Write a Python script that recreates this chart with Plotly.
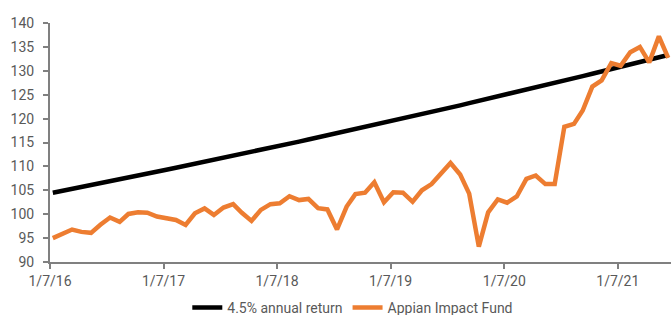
import plotly.graph_objects as go
import pandas as pd

# Monthly observation dates (66 months, on the 10th of each month)
dates = pd.date_range("2016-07-01", periods=66, freq="MS") + pd.Timedelta(days=9)
dates = [d.strftime("%Y-%m-%d") for d in dates]

benchmark = [
    104.50, 104.89, 105.29, 105.68, 106.08, 106.48, 106.88, 107.28, 107.68, 108.09, 108.49, 108.90,
    109.31, 109.72, 110.13, 110.54, 110.96, 111.38, 111.79, 112.21, 112.63, 113.06, 113.48, 113.91,
    114.33, 114.76, 115.19, 115.62, 116.06, 116.49, 116.93, 117.37, 117.81, 118.25, 118.70, 119.14,
    119.59, 120.04, 120.49, 120.94, 121.39, 121.85, 122.31, 122.77, 123.23, 123.69, 124.15, 124.62,
    125.09, 125.56, 126.03, 126.50, 126.98, 127.45, 127.93, 128.41, 128.89, 129.37, 129.86, 130.35,
    130.84, 131.33, 131.82, 132.31, 132.81, 133.31,
]

fund = [
    95.0, 95.8, 96.8, 96.3, 96.1, 97.8, 99.3, 98.4, 100.05, 100.4, 100.3, 99.5,
    99.1, 98.8, 97.75, 100.2, 101.2, 99.85, 101.4, 102.1, 100.3, 98.6, 100.9, 102.1,
    102.3, 103.75, 102.95, 103.2, 101.25, 101.0, 96.8, 101.6, 104.2, 104.5, 106.7, 102.5,
    104.6, 104.5, 102.6, 105.0, 106.3, 108.5, 110.7, 108.3, 104.3, 93.2, 100.4, 103.1,
    102.4, 103.7, 107.4, 108.1, 106.3, 106.3, 118.3, 118.9, 121.7, 126.7, 128.0, 131.6,
    131.05, 133.9, 135.0, 131.75, 137.2, 132.7,
]

tick_dates = ["2016-07-01", "2017-07-01", "2018-07-01", "2019-07-01", "2020-07-01", "2021-07-01"]
tick_labels = ["1/7/16", "1/7/17", "1/7/18", "1/7/19", "1/7/20", "1/7/21"]
y_ticks = [90, 95, 100, 105, 110, 115, 120, 125, 130, 135, 140]

font_color = "#595959"
axis_color = "#808080"

fig = go.Figure()
fig.add_trace(go.Scatter(
    x=dates, y=benchmark, mode="lines", name="4.5% annual return",
    line=dict(color="#000000", width=4.5),
))
fig.add_trace(go.Scatter(
    x=dates, y=fund, mode="lines", name="Appian Impact Fund",
    line=dict(color="#ED7D31", width=4.5),
))

fig.update_layout(
    width=671, height=315,
    margin=dict(l=50, r=0, t=23, b=53, autoexpand=False),
    plot_bgcolor="white", paper_bgcolor="white",
    font=dict(family="Roboto", size=14, color=font_color),
    showlegend=True,
    legend=dict(
        orientation="h", x=0.4876, xanchor="center", y=-0.192, yanchor="middle",
        font=dict(size=14, color=font_color), itemwidth=30, tracegroupgap=0,
    ),
)
fig.update_xaxes(
    type="date", range=["2016-07-01", "2021-12-19"],
    tickvals=tick_dates, ticktext=tick_labels,
    showgrid=False, zeroline=False, automargin=False,
    showline=True, linecolor=axis_color, linewidth=2,
    ticks="outside", ticklen=5, tickwidth=2, tickcolor=axis_color,
    tickfont=dict(size=14, color=font_color),
)
fig.update_yaxes(
    range=[90, 140], tickvals=y_ticks,
    showgrid=False, zeroline=False, automargin=False,
    showline=True, linecolor=axis_color, linewidth=2,
    ticks="outside", ticklen=5, tickwidth=2, tickcolor=axis_color,
    ticklabelstandoff=6,
    tickfont=dict(size=14, color=font_color),
)

fig.write_html(
    "out.html",
    config={"displayModeBar": False},
    post_script="document.body.style.margin='0';document.body.style.overflow='hidden';",
)
